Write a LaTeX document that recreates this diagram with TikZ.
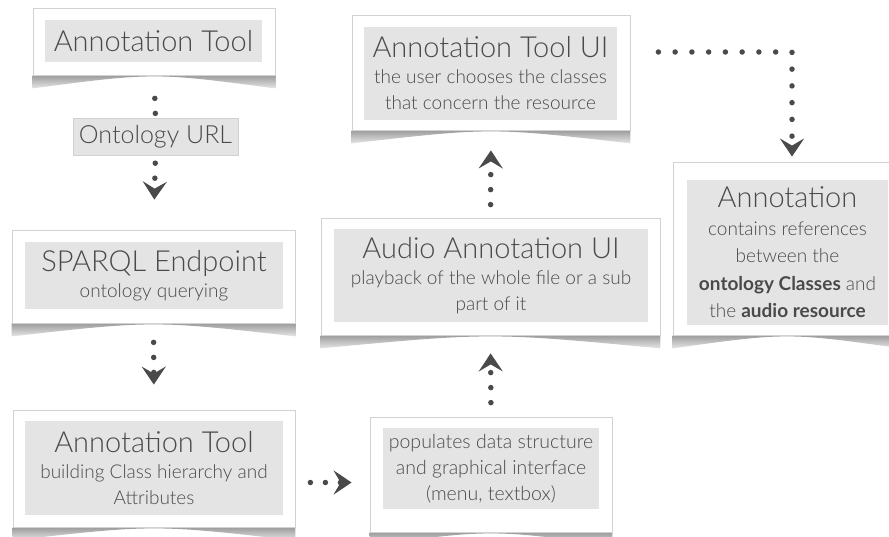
\documentclass[tikz,border=0pt]{standalone}
\usepackage{fontspec}
\IfFontExistsTF{Lato Light}{\setmainfont{Lato Light}[BoldFont=Lato Bold]}{\setmainfont{Lato}}
\usetikzlibrary{arrows.meta, calc, positioning}
\definecolor{ink}{HTML}{4A4A4A}
\definecolor{panelgrey}{HTML}{E4E4E4}
\definecolor{cardedge}{HTML}{D2D2D2}
\definecolor{dotgrey}{HTML}{4A4A4A}
\newcommand{\titlefont}{\fontsize{29}{33}\selectfont}
\newcommand{\subfont}{\fontsize{19}{26}\selectfont}
\pgfdeclarelayer{background}
\pgfsetlayers{background,main}
% soft curved shadow under a card
\newcommand{\cardshadow}[1]{%
  \begin{pgfonlayer}{background}
    \shade[top color=gray!90, bottom color=gray!20]
      (#1.south west) -- ($(#1.south west)+(0,13)$)
      .. controls ($(#1.south)+(0,-3)$) .. ($(#1.south east)+(0,13)$)
      -- (#1.south east) -- cycle;
  \end{pgfonlayer}}

\begin{document}
\begin{tikzpicture}[x=1pt, y=-1pt,
  card/.style = {draw=cardedge, line width=0.8pt, fill=white, inner sep=0pt},
  panel/.style = {fill=panelgrey, text=ink, inner sep=0pt, align=center, font=\subfont},
  dotline/.style = {line width=5.5pt, line cap=round, dash pattern=on 0pt off 15pt, color=dotgrey},
  dotarr/.style = {dotline, -{Stealth[length=18pt, width=24pt, inset=7pt]}},
]
\useasboundingbox (0,0) rectangle (889,537);

\node[card, minimum width=242pt, minimum height=67pt] (toolcard) at (154,41.5) {};
\node[panel, minimum width=217pt, minimum height=42pt] (tool) at (153.5,41) {\titlefont Annotation Tool};
\cardshadow{toolcard}

\node[panel, draw=cardedge, minimum width=165pt, minimum height=37pt, font=\fontsize{25}{28}\selectfont] (urlbox) at (155.5,136.5) {Ontology URL};

\node[card, minimum width=283pt, minimum height=93pt] (sparqlcard) at (153.5,276.5) {};
\node[panel, minimum width=258pt, minimum height=67pt] (sparql) at (154,275.5) {{\titlefont SPARQL Endpoint}\\ontology querying};
\cardshadow{sparqlcard}

\node[card, minimum width=282pt, minimum height=117pt] (buildercard) at (154,468.5) {};
\node[panel, minimum width=258pt, minimum height=94pt] (builder) at (154,468) {{\titlefont Annotation Tool}\\building Class hierarchy and\\Attributes};
\cardshadow{buildercard}

\node[card, minimum width=242pt, minimum height=115pt] (popcard) at (491,474.5) {};
\node[panel, minimum width=216pt, minimum height=81pt, font=\fontsize{19.5}{26}\selectfont] (populate) at (491,468.5) {populates data structure\\and graphical interface\\(menu, textbox)};
\cardshadow{popcard}

\node[card, minimum width=339pt, minimum height=117pt] (audiocard) at (490.5,276.5) {};
\node[panel, minimum width=314pt, minimum height=93pt] (audio) at (491,275.5) {{\titlefont Audio Annotation UI}\\playback of the whole file or a sub\\part of it};
\cardshadow{audiocard}

\node[card, minimum width=278pt, minimum height=115pt] (toolui-card) at (491,72.5) {};
\node[panel, minimum width=253pt, minimum height=93pt] (toolui) at (490.5,73.5) {{\titlefont Annotation Tool UI}\\the user chooses the classes\\that concern the resource};
\cardshadow{toolui-card}

\node[card, minimum width=228pt, minimum height=173pt] (annotcard) at (787,248.5) {};
\node[panel, minimum width=201pt, minimum height=145pt, font=\fontsize{19}{27.5}\selectfont] (annot) at (787.5,252.5) {{\titlefont Annotation}\\contains references\\between the\\\textbf{ontology Classes} and\\the \textbf{audio resource}};
\cardshadow{annotcard}

\draw[dotline, shorten <=23pt, shorten >=3pt] (toolcard.south) -- (urlbox.north);
\draw[dotarr, shorten <=8pt, shorten >=30pt] (urlbox.south) -- (sparqlcard.north);
\draw[dotarr, shorten <=19pt, shorten >=25pt] (sparqlcard.south) -- (buildercard.north);
\draw[dotarr, shorten <=15pt, shorten >=18pt] ([yshift=-14pt]buildercard.east) -- ([yshift=-8pt]popcard.west);
\draw[dotarr, shorten <=14pt, shorten >=18pt] (popcard.north) -- (audiocard.south);
\draw[dotarr, shorten <=13pt, shorten >=20pt] (audiocard.north) -- (toolui-card.south);
\draw[dotarr, dash pattern=on 0pt off 16.75pt, shorten <=28pt, shorten >=5pt] ([yshift=20.5pt]toolui-card.east) -| ([xshift=5pt]annotcard.north);
\end{tikzpicture}
\end{document}
